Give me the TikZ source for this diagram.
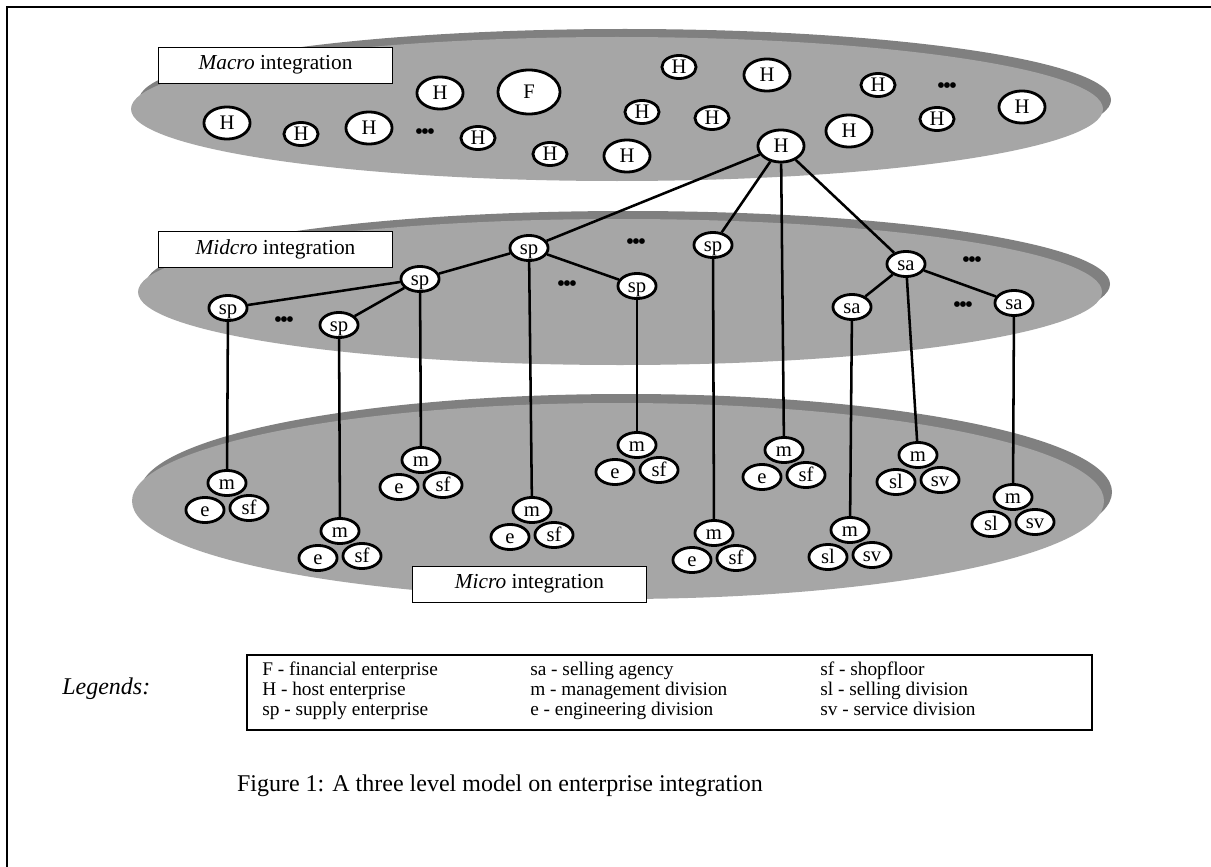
\documentclass[tikz,border=0pt]{standalone}
\usepackage{fontspec}
\setmainfont{Liberation Serif}
\usetikzlibrary{shapes.geometric}
\definecolor{lightlayer}{HTML}{A6A6A6}
\definecolor{darklayer}{HTML}{808080}
\begin{document}
\begin{tikzpicture}[x=0.75pt,y=-0.75pt,
  ent/.style={ellipse,draw=black,fill=white,line width=2.1pt,inner sep=0pt,
    text height=10.3pt,text depth=0.8pt,font=\fontsize{15.5}{17}\selectfont},
  bigh/.style={ent,minimum width=34.6pt,minimum height=24.1pt},
  smallh/.style={ent,minimum width=25.6pt,minimum height=17.3pt},
  bigf/.style={ent,minimum width=46.6pt,minimum height=33pt},
  unit/.style={ent,minimum width=28.6pt,minimum height=18.8pt},
  link/.style={line width=1.9pt},
  levelbox/.style={draw=black,fill=white,line width=0.7pt,minimum width=176pt,minimum height=27pt,inner sep=0pt,font=\fontsize{16}{18}\selectfont},
  dots/.style={inner sep=0pt,font=\fontsize{18}{18}\selectfont},
  txt/.style={inner sep=0pt,anchor=base west,font=\fontsize{14.5}{17}\selectfont}
]
\useasboundingbox (0,0) rectangle (1211,867);
\fill[white] (0,0) rectangle (1211,867);
% frame
\draw[line width=2.2pt] (7,867) -- (7,7) -- (1211,7);

% layers
\fill[darklayer] (625,100) ellipse [x radius=486, y radius=71];
\fill[lightlayer] (617,109) ellipse [x radius=486, y radius=72];
\fill[darklayer] (628,284) ellipse [x radius=482, y radius=73];
\fill[lightlayer] (620,292) ellipse [x radius=482, y radius=73];
\fill[darklayer] (626,492) ellipse [x radius=486, y radius=98];
\fill[lightlayer] (618,501) ellipse [x radius=486, y radius=98];

% level labels
\node[levelbox] (macro) at (275.5,65) {\textit{Macro} integration};
\node[levelbox] (midcro) at (275.5,249) {\textit{Midcro} integration};
\node[levelbox] (micro) at (529.5,584) {\textit{Micro} integration};

% macro layer
\node[bigh] (h1) at (227,123) {H};
\node[smallh] (h2) at (301,134) {H};
\node[bigh] (h3) at (369,128) {H};
\node[dots] (d1) at (425,134) {•\kern-1.8pt•\kern-1.8pt•};
\node[bigh] (h4) at (440,93) {H};
\node[bigf] (f) at (529,92) {F};
\node[smallh] (h5) at (478,138) {H};
\node[smallh] (h6) at (550,154) {H};
\node[bigh] (h7) at (627,156) {H};
\node[smallh] (h8) at (679,67) {H};
\node[bigh] (h9) at (767,75) {H};
\node[smallh] (h10) at (878,85) {H};
\node[dots] (d2) at (947,88) {•\kern-1.8pt•\kern-1.8pt•};
\node[bigh] (h11) at (1022,107) {H};
\node[smallh] (h12) at (642,112) {H};
\node[smallh] (h13) at (712,118) {H};
\node[smallh] (h14) at (937,119) {H};
\node[bigh] (h15) at (849,131) {H};
\node[bigh] (hm) at (781,146) {H};

% midcro layer
\node[unit] (sp4) at (529,248) {sp};
\node[unit] (sp3) at (420,279) {sp};
\node[unit] (sp1) at (228,308) {sp};
\node[unit] (sp2) at (339,325) {sp};
\node[unit] (sp5) at (637,286) {sp};
\node[unit] (sp6) at (713,245) {sp};
\node[unit] (sa1) at (906,264) {sa};
\node[unit] (sa2) at (852,307) {sa};
\node[unit] (sa3) at (1014,303) {sa};
\node[dots] (d3) at (284,322) {•\kern-1.8pt•\kern-1.8pt•};
\node[dots] (d4) at (567,286) {•\kern-1.8pt•\kern-1.8pt•};
\node[dots] (d5) at (636,244) {•\kern-1.8pt•\kern-1.8pt•};
\node[dots] (d6) at (972,262) {•\kern-1.8pt•\kern-1.8pt•};
\node[dots] (d7) at (963,307) {•\kern-1.8pt•\kern-1.8pt•};

% micro layer
\node[unit] (e1) at (205,510) {e};   \node[unit] (sf1) at (249,508) {sf};  \node[unit] (m1) at (227,483) {m};
\node[unit] (e2) at (318,558) {e};   \node[unit] (sf2) at (362,556) {sf};  \node[unit] (m2) at (340,531) {m};
\node[unit] (e3) at (399,487) {e};   \node[unit] (sf3) at (443,485) {sf};  \node[unit] (m3) at (421,460) {m};
\node[unit] (e4) at (510,537) {e};   \node[unit] (sf4) at (554,535) {sf};  \node[unit] (m4) at (532,510) {m};
\node[unit] (e5) at (615,472) {e};   \node[unit] (sf5) at (659,470) {sf};  \node[unit] (m5) at (637,445) {m};
\node[unit] (e6) at (692,560) {e};   \node[unit] (sf6) at (736,558) {sf};  \node[unit] (m6) at (714,533) {m};
\node[unit] (e7) at (762,477) {e};   \node[unit] (sf7) at (806,475) {sf};  \node[unit] (m7) at (784,450) {m};
\node[unit] (sl8) at (828,557) {sl}; \node[unit] (sv8) at (872,555) {sv};  \node[unit] (m8) at (850,530) {m};
\node[unit] (sl9) at (896,482) {sl}; \node[unit] (sv9) at (940,480) {sv};  \node[unit] (m9) at (918,455) {m};
\node[unit] (sl10) at (991,524) {sl};\node[unit] (sv10) at (1035,522) {sv}; \node[unit] (m10) at (1013,497) {m};

% connectors
\draw[link] (hm) -- (sp4);
\draw[link] (hm) -- (sp6);
\draw[link] (hm) -- (sa1);
\draw[link] (hm) -- (m7);
\draw[link] (sp4) -- (sp3);
\draw[link] (sp4) -- (sp5);
\draw[link] (sp3) -- (sp1);
\draw[link] (sp3) -- (sp2);
\draw[link] (sa1) -- (sa2);
\draw[link] (sa1) -- (sa3);
\draw[link] (sp1) -- (m1);
\draw[link] (sp2) -- (m2);
\draw[link] (sp3) -- (m3);
\draw[link] (sp4) -- (m4);
\draw[link] (sp5) -- (m5);
\draw[link] (sp6) -- (m6);
\draw[link] (sa2) -- (m8);
\draw[link] (sa1) -- (m9);
\draw[link] (sa3) -- (m10);

% legend
\node[txt,font=\fontsize{18}{20}\selectfont\itshape] (legtitle) at (62,694) {Legends:};
\draw[line width=0.9pt] (247,655) rectangle (1092,730);
\node[txt] (l1) at (262,675) {F - financial enterprise};
\node[txt] (l2) at (262,695) {H - host enterprise};
\node[txt] (l3) at (262,715) {sp - supply enterprise};
\node[txt] (l4) at (530,675) {sa - selling agency};
\node[txt] (l5) at (530,695) {m - management division};
\node[txt] (l6) at (530,715) {e - engineering division};
\node[txt] (l7) at (820,675) {sf - shopfloor};
\node[txt] (l8) at (820,695) {sl - selling division};
\node[txt] (l9) at (820,715) {sv - service division};

\node[txt,anchor=center,font=\fontsize{18}{20}\selectfont] (caption) at (500,786) {Figure 1: A three level model on enterprise integration};
\end{tikzpicture}
\end{document}
